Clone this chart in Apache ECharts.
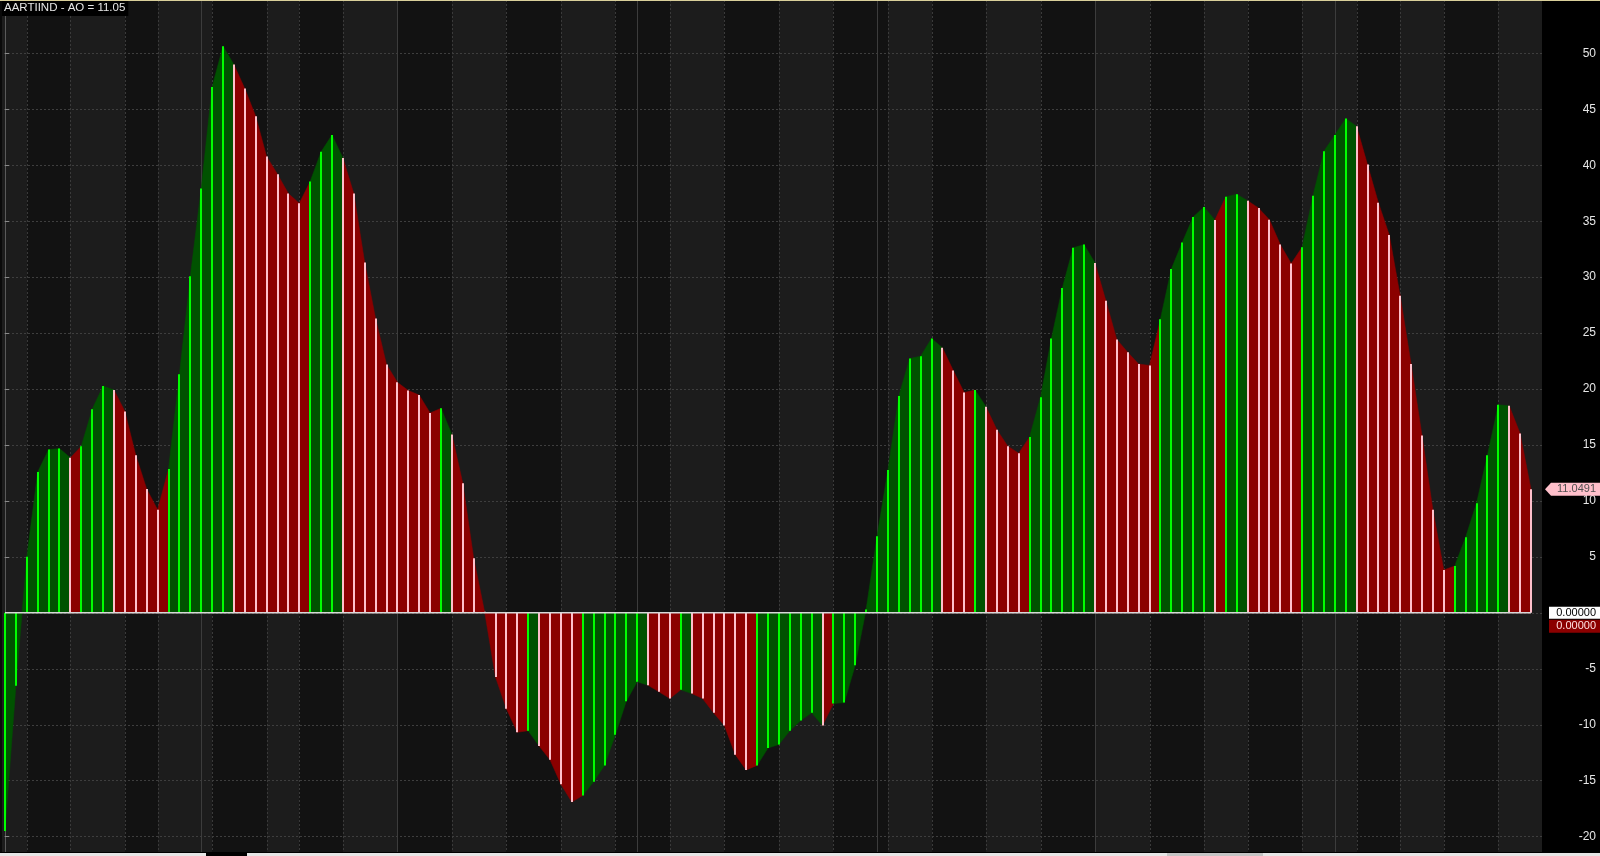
<!DOCTYPE html>
<html><head><meta charset="utf-8">
<script src="https://cdn.jsdelivr.net/npm/echarts@6/dist/echarts.min.js"></script>
<style>html,body{margin:0;padding:0;background:#000;}#c{width:1600px;height:856px;}</style>
</head><body><div id="c"></div>
<script>
const chartTitle = 'AARTIIND - AO = 11.05';
const aoValues = [
  -19.5, -6.52, 5.01, 12.58, 14.59, 14.68, 13.86, 14.90, 18.19, 20.28,
  19.92, 18.0, 14.08, 11.08, 9.21, 12.85, 21.33, 30.08, 37.92, 46.99,
  50.64, 49.0, 46.85, 44.39, 40.79, 39.2, 37.47, 36.6, 38.56, 41.2,
  42.71, 40.66, 37.47, 31.31, 26.3, 22.2, 20.6, 19.87, 19.46, 17.87,
  18.28, 15.95, 11.58, 4.88, 0.1, -5.74, -8.57, -10.67, -10.53, -11.9,
  -13.13, -15.31, -16.91, -16.32, -15.09, -13.63, -10.89, -7.89, -6.15, -6.47,
  -7.06, -7.66, -6.88, -7.2, -7.66, -8.93, -10.07, -12.67, -14.04, -13.63,
  -12.08, -11.76, -10.53, -9.62, -8.93, -10.07, -8.11, -8.02, -4.69, 0.3,
  6.84, 12.76, 19.37, 22.74, 22.93, 24.52, 23.7, 21.65, 19.69, 19.92,
  18.41, 16.36, 14.9, 14.27, 15.72, 19.28, 24.52, 29.03, 32.63, 32.91,
  31.27, 27.89, 24.43, 23.29, 22.24, 22.11, 26.25, 30.72, 33.09, 35.37,
  36.28, 35.1, 37.19, 37.42, 36.83, 36.19, 35.14, 32.91, 31.22, 32.68,
  37.28, 41.25, 42.71, 44.17, 43.48, 40.06, 36.65, 33.77, 28.35, 22.24,
  15.86, 9.21, 3.83, 4.19, 6.75, 9.8, 14.08, 18.6, 18.5, 16.04,
  11.0491
];
const weekStarts = [0, 2, 6, 11, 14, 19, 24, 27, 31, 36, 41, 46, 51, 56, 61, 66, 71, 76, 81, 85, 90, 95, 100, 105, 110, 114, 119, 124, 128, 132, 137];
const monthStarts = [18, 36, 58, 80, 100, 122];
const lastValueLabel = '11.0491';
const zeroLabel = '0.00000';

const N = aoValues.length;
const X_MIN = -0.4587, X_MAX = 141.009;
const Y_MIN = -21.37, Y_MAX = 54.77;
const rising = aoValues.map((v, i) => i === 0 ? true : v >= aoValues[i - 1]);

const chart = echarts.init(document.getElementById('c'), null, {renderer: 'canvas'});
chart.setOption({
  backgroundColor: '#000',
  animation: false,
  title: {
    text: chartTitle, left: 0, top: 0, padding: [2, 3, 2, 4],
    backgroundColor: '#000',
    textStyle: {color: '#e6e6e6', fontSize: 11.5, fontWeight: 'normal', fontFamily: 'Liberation Sans, Arial, sans-serif'}
  },
  grid: {left: 0, top: 0, width: 1542, height: 852},
  xAxis: {type: 'value', min: X_MIN, max: X_MAX, show: false},
  yAxis: {
    type: 'value', position: 'right', min: Y_MIN, max: Y_MAX, splitNumber: 15,
    axisLine: {show: true, lineStyle: {color: '#5a5a5a', width: 1}},
    axisTick: {show: true, length: 4, lineStyle: {color: '#8a8a8a'}},
    axisLabel: {
      margin: 54, align: 'right', color: '#e6e6e6', fontSize: 12,
      fontFamily: 'Liberation Sans, Arial, sans-serif',
      showMinLabel: false, showMaxLabel: false,
      formatter: v => Math.abs(v / 5 - Math.round(v / 5)) < 1e-6 ? String(Math.round(v)) : ''
    },
    splitLine: {show: true, showMinLine: false, showMaxLine: false, lineStyle: {color: '#3e3e3e', type: [2, 2], width: 1}}
  },
  graphic: [
    {type: 'rect', left: 0, top: 0, z: 100, shape: {width: 1600, height: 1}, style: {fill: '#d9cf9a'}},
    {type: 'rect', left: 0, top: 0, z: 99, shape: {width: 2, height: 852}, style: {fill: '#0a0a0a'}},
    {type: 'rect', left: 0, top: 852, z: 100, shape: {width: 1542, height: 1}, style: {fill: '#000'}},
    {type: 'rect', left: 0, top: 853, z: 100, shape: {width: 1600, height: 3}, style: {fill: '#e6e6e6'}},
    {type: 'rect', left: 206, top: 853, z: 101, shape: {width: 41, height: 3}, style: {fill: '#000'}},
    {type: 'rect', left: 1167, top: 853, z: 101, shape: {width: 96, height: 3}, style: {fill: '#c4c4c4'}}
  ],
  series: [
    {
      type: 'custom', z: -5, silent: true,
      data: weekStarts.map((s, k) => [s, k]),
      renderItem(params, api) {
        const cs = params.coordSys;
        const k = api.value(1);
        const s = weekStarts[k];
        const x0 = k === 0 ? cs.x : api.coord([s, 0])[0];
        const x1 = k === weekStarts.length - 1 ? cs.x + cs.width : api.coord([weekStarts[k + 1], 0])[0];
        const children = [{type: 'rect', shape: {x: Math.round(x0), y: cs.y, width: Math.round(x1) - Math.round(x0), height: cs.height}, style: {fill: k % 2 === 0 ? '#1c1c1c' : '#121212'}}];
        if (k > 0 && monthStarts.indexOf(s) < 0) {
          const xl = Math.round(x0) + 0.5;
          children.push({type: 'line', shape: {x1: xl, y1: cs.y, x2: xl, y2: cs.y + cs.height}, style: {stroke: '#3a3a3a', lineWidth: 1, lineDash: [2, 2]}});
        }
        return {type: 'group', children};
      }
    },
    {
      type: 'custom', z: -4, silent: true,
      data: monthStarts.map(s => [s, 0]),
      renderItem(params, api) {
        const cs = params.coordSys;
        const xl = Math.round(api.coord([api.value(0), 0])[0]) + 0.5;
        return {type: 'line', shape: {x1: xl, y1: cs.y, x2: xl, y2: cs.y + cs.height}, style: {stroke: '#3c3c3c', lineWidth: 1}};
      }
    },
    {
      type: 'custom', z: 2, silent: true,
      data: aoValues.slice(0, -1).map((v, i) => [i, v]),
      renderItem(params, api) {
        const i = api.value(0);
        const p0 = api.coord([i, aoValues[i]]);
        const p1 = api.coord([i + 1, aoValues[i + 1]]);
        const z0 = api.coord([i, 0]), z1 = api.coord([i + 1, 0]);
        const c = rising[i] ? '#005200' : '#8b0000';
        return {type: 'polygon', shape: {points: [z0, p0, p1, z1]}, style: {fill: c, stroke: c, lineWidth: 0.5}};
      }
    },
    {
      type: 'custom', z: 3, silent: true,
      data: aoValues.map((v, i) => [i, v]),
      renderItem(params, api) {
        const i = api.value(0), v = api.value(1);
        const a = api.coord([i, 0]), b = api.coord([i, v]);
        const x = Math.round(a[0]);
        return {type: 'line', shape: {x1: x, y1: a[1], x2: x, y2: b[1]}, style: {stroke: rising[i] ? '#00ff00' : '#ffc0cb', lineWidth: 2}};
      }
    },
    {
      type: 'line', z: 4, silent: true, symbol: 'none',
      data: [[0, 0], [N - 1, 0]],
      lineStyle: {color: '#d8d8d8', width: 1.5}
    },
    {
      type: 'custom', z: 10, silent: true, clip: false,
      data: [[X_MAX, aoValues[N - 1]]],
      renderItem(params, api) {
        const cs = params.coordSys;
        const p = api.coord([api.value(0), api.value(1)]);
        const z = api.coord([api.value(0), 0]);
        const W = api.getWidth();
        const xr = cs.x + cs.width;
        const y = p[1];
        return {type: 'group', children: [
          {type: 'polygon', shape: {points: [[xr + 3, y], [xr + 9, y - 6.5], [W, y - 6.5], [W, y + 6.5], [xr + 9, y + 6.5]]}, style: {fill: '#ffc0cb'}},
          {type: 'text', style: {text: lastValueLabel, x: W - 4, y: y, align: 'right', verticalAlign: 'middle', fill: '#505050', font: '11px "Liberation Sans", Arial, sans-serif'}},
          {type: 'rect', shape: {x: xr + 7, y: z[1] - 6, width: W - xr - 7, height: 12}, style: {fill: '#ffffff'}},
          {type: 'text', style: {text: zeroLabel, x: W - 4, y: z[1], align: 'right', verticalAlign: 'middle', fill: '#000', font: '11px "Liberation Sans", Arial, sans-serif'}},
          {type: 'rect', shape: {x: xr + 7, y: z[1] + 7, width: W - xr - 7, height: 13}, style: {fill: '#8b0000'}},
          {type: 'text', style: {text: zeroLabel, x: W - 4, y: z[1] + 13.5, align: 'right', verticalAlign: 'middle', fill: '#ffe0e0', font: '11px "Liberation Sans", Arial, sans-serif'}}
        ]};
      }
    }
  ]
});
</script>
</body></html>
